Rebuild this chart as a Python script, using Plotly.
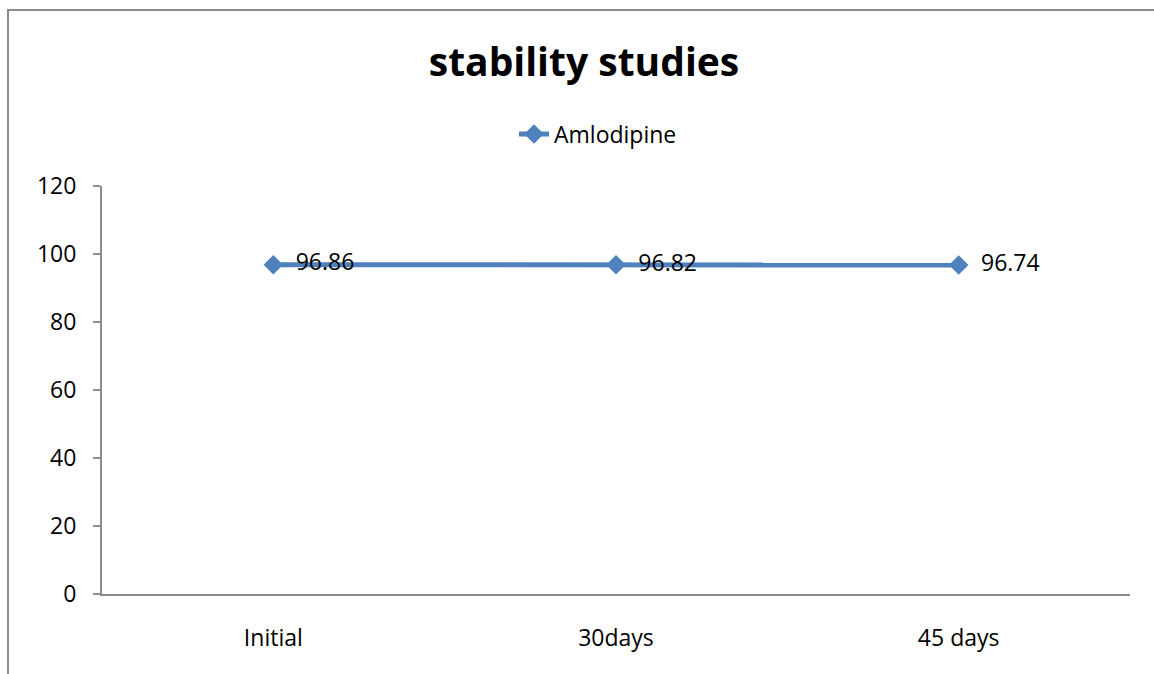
import plotly.graph_objects as go

categories = ["Initial", "30days", "45 days"]
amlodipine = [96.86, 96.82, 96.74]
y_ticks = [0, 20, 40, 60, 80, 100, 120]

W, H = 1154, 674
L, R, T, B = 102, 24, 186, 80
pw, ph = W - L - R, H - T - B

def px_x(px):
    return (px - L) / pw

def px_y(py):
    return (H - B - py) / ph

FONT = "Open Sans"

fig = go.Figure()
fig.add_trace(go.Scatter(
    x=categories, y=amlodipine,
    mode="lines+markers+text",
    name="Amlodipine",
    line=dict(color="#4F81BD", width=5),
    marker=dict(symbol="diamond", size=15, color="#4F81BD"),
    texttemplate="\u00a0\u00a0%{y:.2f}",
    textposition="middle right",
    textfont=dict(family=FONT, size=23, color="#000000"),
    cliponaxis=False,
))

fig.update_layout(
    width=W, height=H,
    margin=dict(l=L, r=R, t=T, b=B),
    paper_bgcolor="white", plot_bgcolor="white",
    title=dict(text="<b>stability studies</b>", x=584 / W, xanchor="center",
               y=1 - 62 / H, yanchor="middle",
               font=dict(family=FONT, size=39, color="#000000")),
    showlegend=True,
    legend=dict(orientation="h", x=px_x(598), xanchor="center", y=px_y(134), yanchor="middle",
                font=dict(family=FONT, size=23, color="#000000"),
                bgcolor="rgba(0,0,0,0)"),
    xaxis=dict(type="category", range=[-0.5, 2.5], showgrid=False, zeroline=False,
               showline=True, linecolor="#8C8C8C", linewidth=2, ticks="",
               tickfont=dict(family=FONT, size=23, color="#000000"),
               ticklabelstandoff=22),
    yaxis=dict(range=[0, 120], tickvals=y_ticks, showgrid=False, zeroline=False,
               showline=True, linecolor="#8C8C8C", linewidth=2,
               ticks="outside", ticklen=7, tickcolor="#8C8C8C", tickwidth=2,
               tickfont=dict(family=FONT, size=23, color="#000000"),
               ticklabelstandoff=12),
    shapes=[dict(type="rect", xref="paper", yref="paper",
                 x0=px_x(8), x1=px_x(1170), y0=px_y(690), y1=px_y(10),
                 line=dict(color="#8C8C8C", width=2), layer="below")],
)

fig.write_html("out.html")
